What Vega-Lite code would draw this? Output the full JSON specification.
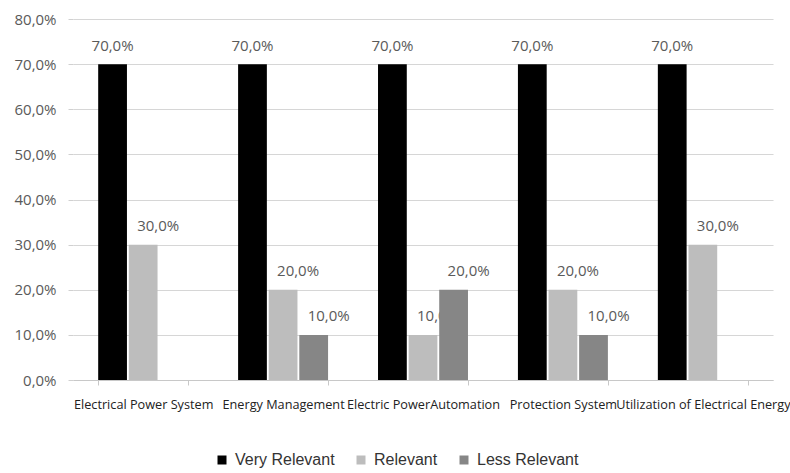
{
  "$schema": "https://vega.github.io/schema/vega-lite/v6.json",
  "width": 700,
  "height": 361,
  "autosize": {"type": "none"},
  "padding": {"left": 73, "top": 19, "right": 17, "bottom": 93},
  "background": "white",
  "data": {
    "values": [
      {"topic": "Electrical Power System", "level": "Very Relevant", "value": 0.7},
      {"topic": "Electrical Power System", "level": "Relevant", "value": 0.3},
      {"topic": "Energy Management", "level": "Very Relevant", "value": 0.7},
      {"topic": "Energy Management", "level": "Relevant", "value": 0.2},
      {"topic": "Energy Management", "level": "Less Relevant", "value": 0.1},
      {"topic": "Electric PowerAutomation", "level": "Very Relevant", "value": 0.7},
      {"topic": "Electric PowerAutomation", "level": "Relevant", "value": 0.1},
      {"topic": "Electric PowerAutomation", "level": "Less Relevant", "value": 0.2},
      {"topic": "Protection System", "level": "Very Relevant", "value": 0.7},
      {"topic": "Protection System", "level": "Relevant", "value": 0.2},
      {"topic": "Protection System", "level": "Less Relevant", "value": 0.1},
      {"topic": "Utilization of Electrical Energy", "level": "Very Relevant", "value": 0.7},
      {"topic": "Utilization of Electrical Energy", "level": "Relevant", "value": 0.3}
    ]
  },
  "encoding": {
    "x": {
      "field": "topic", "type": "nominal", "sort": null,
      "scale": {"paddingInner": 0.357, "paddingOuter": 0.18},
      "axis": {
        "title": null, "labelAngle": 0, "tickBand": "extent",
        "labelFont": "Open Sans", "labelFontSize": 12.7, "labelColor": "#222222",
        "labelPadding": 13, "tickSize": 5, "tickColor": "#c8c8c8", "domainColor": "#c8c8c8",
        "grid": false, "labelOverlap": false, "labelBound": false, "labelLimit": 400
      }
    },
    "xOffset": {
      "field": "level", "type": "nominal",
      "sort": ["Very Relevant", "Relevant", "Less Relevant"],
      "scale": {"domain": ["Very Relevant", "Relevant", "Less Relevant"], "paddingInner": 0.06}
    },
    "y": {
      "field": "value", "type": "quantitative",
      "scale": {"domain": [0, 0.8], "nice": false},
      "axis": {
        "title": null, "values": [0, 0.1, 0.2, 0.3, 0.4, 0.5, 0.6, 0.7, 0.8],
        "format": ".1%",
        "labelFont": "Open Sans", "labelFontSize": 15, "labelColor": "#5a5a5a",
        "domain": false, "tickSize": 5, "tickColor": "#d0d0d0", "labelPadding": 12,
        "gridColor": "#d6d6d6", "gridWidth": 1.2
      }
    }
  },
  "layer": [
    {
      "transform": [{"filter": "datum.level === 'Very Relevant'"}],
      "mark": {"type": "text", "baseline": "bottom", "dy": -10, "font": "Open Sans", "fontSize": 15, "color": "#5a5a5a"},
      "encoding": {
        "text": {"field": "value", "type": "quantitative", "format": ".1%"}
      }
    },
    {
      "transform": [{"filter": "datum.level !== 'Very Relevant'"}],
      "mark": {"type": "text", "baseline": "bottom", "dy": -11, "dx": 15, "font": "Open Sans", "fontSize": 15, "color": "#5a5a5a"},
      "encoding": {
        "text": {"field": "value", "type": "quantitative", "format": ".1%"}
      }
    },
    {
      "mark": {"type": "bar"},
      "encoding": {
        "color": {
          "field": "level", "type": "nominal",
          "sort": ["Very Relevant", "Relevant", "Less Relevant"],
          "scale": {"domain": ["Very Relevant", "Relevant", "Less Relevant"], "range": ["#000000", "#bdbdbd", "#868686"]},
          "legend": {
            "title": null, "orient": "none", "direction": "horizontal",
            "legendX": 141, "legendY": 433,
            "symbolType": "square", "symbolSize": 81, "symbolStrokeWidth": 0,
            "labelFont": "Liberation Sans", "labelFontSize": 16, "labelColor": "#333333",
            "columnPadding": 18, "labelOffset": 5
          }
        }
      }
    }
  ],
  "config": {
    "view": {"stroke": null},
    "locale": {"number": {"decimal": ",", "thousands": ".", "grouping": [3], "currency": ["", " €"]}}
  }
}
